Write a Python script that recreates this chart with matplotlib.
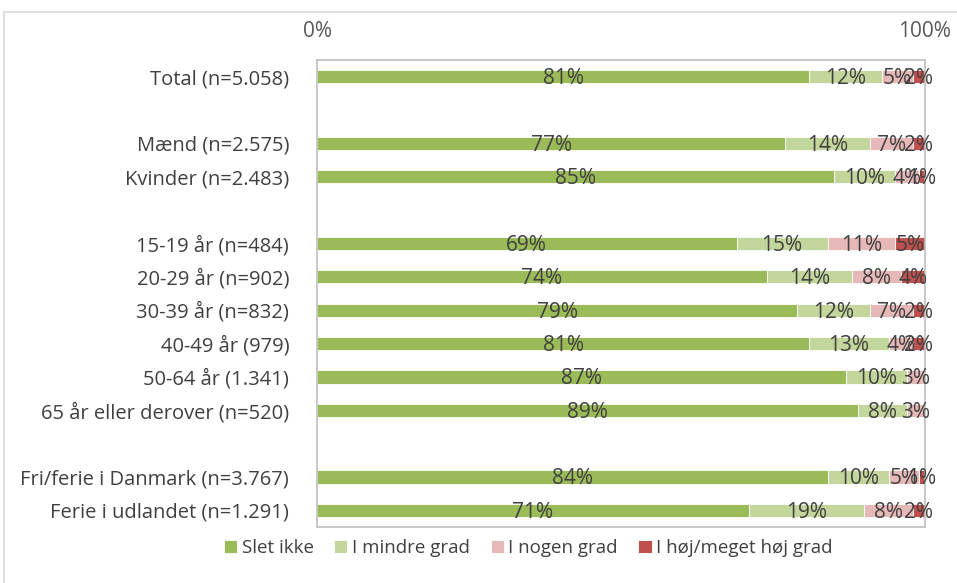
import numpy as np
import matplotlib.pyplot as plt
from matplotlib.patches import Rectangle

plt.rcParams['font.family'] = ['Open Sans', 'DejaVu Sans']

# -------------------------
# data (tomme strenge = mellemrum mellem grupper)
categories = ['Total (n=5.058)', '',
              'Mænd (n=2.575)', 'Kvinder (n=2.483)', '',
              '15-19 år (n=484)', '20-29 år (n=902)', '30-39 år (n=832)',
              '40-49 år (979)', '50-64 år (1.341)', '65 år eller derover (n=520)', '',
              'Fri/ferie i Danmark (n=3.767)', 'Ferie i udlandet (n=1.291)']
slet_ikke = [81, 0, 77, 85, 0, 69, 74, 79, 81, 87, 89, 0, 84, 71]
mindre_grad = [12, 0, 14, 10, 0, 15, 14, 12, 13, 10, 8, 0, 10, 19]
nogen_grad = [5, 0, 7, 4, 0, 11, 8, 7, 4, 3, 3, 0, 5, 8]
hoej_grad = [2, 0, 2, 1, 0, 5, 4, 2, 2, 0, 0, 0, 1, 2]
series_names = ['Slet ikke', 'I mindre grad', 'I nogen grad', 'I høj/meget høj grad']
colors = ['#9BBB59', '#C3D69B', '#E6B9B8', '#C0504D']
x_ticks = [0, 100]
x_ticklabels = ['0%', '100%']

# -------------------------
fig = plt.figure(figsize=(9.57, 5.83), dpi=100)
ax = fig.add_axes([317/957, 1-527/583, (925-317)/957, (527-60)/583])

# ramme om hele diagrammet
fig.patches.append(Rectangle((4/957, -0.2), 1.2, 0.2+1-12/583, transform=fig.transFigure,
                             fill=False, edgecolor='#D9D9D9', linewidth=1.2))

y = np.arange(len(categories))
data = np.array([slet_ikke, mindre_grad, nogen_grad, hoej_grad], dtype=float)
left = np.zeros(len(categories))
for i in range(4):
    ax.barh(y, data[i], left=left, height=0.4, color=colors[i],
            edgecolor='white', linewidth=0.6, label=series_names[i])
    for j in range(len(categories)):
        if data[i][j] > 0:
            ax.text(left[j] + data[i][j]/2, y[j] + 0.06, '%d%%' % data[i][j],
                    ha='center', va='center', fontsize=15, color='#404040')
    left += data[i]

ax.set_xlim(0, 100)
ax.set_ylim(len(categories) - 0.5, -0.5)
ax.set_yticks(y)
ax.set_yticklabels(categories, fontsize=14.5, color='#404040')
ax.xaxis.tick_top()
ax.set_xticks(x_ticks)
ax.set_xticklabels(x_ticklabels, fontsize=15, color='#595959')
ax.tick_params(length=0, pad=13, axis='x')
ax.tick_params(length=0, pad=20, axis='y')
for s in ax.spines.values():
    s.set_color('#BFBFBF')
    s.set_linewidth(1.2)

fig.legend(loc='center', bbox_to_anchor=(0.552, 1-548/583), ncol=4, frameon=False,
           fontsize=13.5, handlelength=0.7, handleheight=0.7, handletextpad=0.25,
           columnspacing=1.1, labelcolor='#404040')

plt.savefig('out.png', dpi=100)
